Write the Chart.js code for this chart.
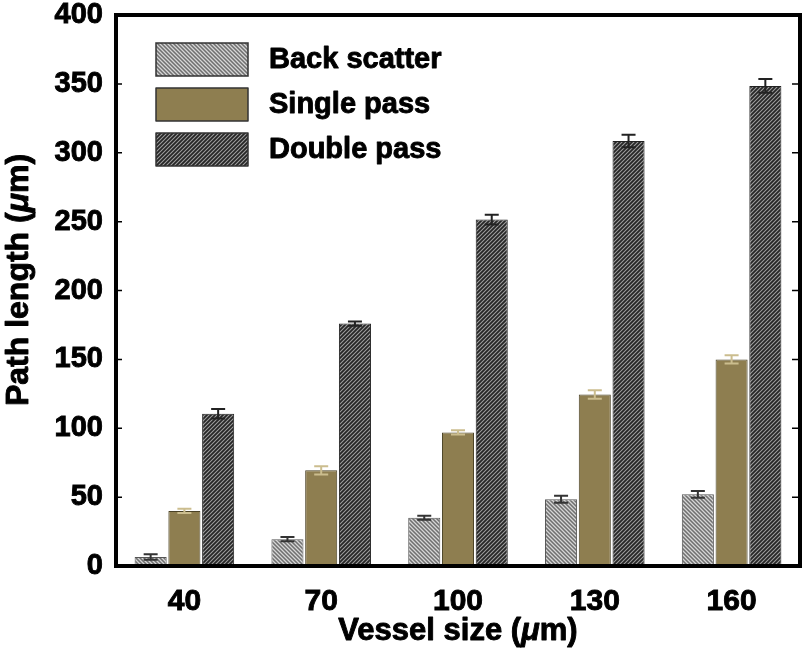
<!DOCTYPE html>
<html>
<head>
<meta charset="utf-8">
<script src="https://cdn.jsdelivr.net/npm/chart.js@4.4.0/dist/chart.umd.min.js"></script>
<style>
  html, body { margin: 0; padding: 0; background: #fff; }
  #grafico { display: block; }
</style>
</head>
<body>
<canvas id="grafico" width="808" height="652"></canvas>
<script>
// dados
const tamanhos = ['40', '70', '100', '130', '160'];
const nomesSeries = ['Back scatter', 'Single pass', 'Double pass'];
const backScatter = [6.5, 19.5, 35, 48.5, 52];
const singlePass = [40, 69.5, 97, 124.5, 150];
const doublePass = [110.5, 176, 251.5, 308.5, 348.5];
const erroBack = [2, 1.5, 1.5, 2.5, 2.5];
const erroSingle = [1.5, 3, 1.5, 3, 3];
const erroDouble = [3.5, 1.5, 3.5, 4.5, 5];
const ticksY = [0, 50, 100, 150, 200, 250, 300, 350, 400];

const fonte = '"Liberation Sans", Arial, sans-serif';

// padrões hachurados
function hachura(fundo, listra, escura, invertido) {
    const c = document.createElement('canvas');
    c.width = 4; c.height = 4;
    const g = c.getContext('2d');
    g.fillStyle = fundo;
    g.fillRect(0, 0, 4, 4);
    g.lineWidth = 1;
    g.strokeStyle = listra;
    g.beginPath();
    if (invertido) {
        g.moveTo(-1, 5); g.lineTo(5, -1);
        g.moveTo(3, 5); g.lineTo(5, 3);
        g.moveTo(-1, 1); g.lineTo(1, -1);
    } else {
        g.moveTo(-1, -1); g.lineTo(5, 5);
        g.moveTo(3, -1); g.lineTo(5, 1);
        g.moveTo(-1, 3); g.lineTo(1, 5);
    }
    g.stroke();
    g.strokeStyle = escura;
    g.beginPath();
    if (invertido) {
        g.moveTo(1, 5); g.lineTo(5, 1);
        g.moveTo(-1, 3); g.lineTo(3, -1);
    } else {
        g.moveTo(1, -1); g.lineTo(5, 3);
        g.moveTo(-1, 1); g.lineTo(3, 5);
    }
    g.stroke();
    return document.getElementById('grafico').getContext('2d').createPattern(c, 'repeat');
}

const padraoBack = hachura('#9c9c9c', '#d6d6d6', '#707070', false);
const padraoDouble = hachura('#464646', '#979797', '#262626', true);
const corSingle = '#8e7e50';

const erros = [erroBack, erroSingle, erroDouble];
const corErro = ['#333333', '#cbbd8e', '#222222'];

// texto com contorno leve para ficar mais pesado
function textoForte(ctx, t, x, y) {
    ctx.lineWidth = 0.9;
    ctx.strokeStyle = '#000';
    ctx.lineJoin = 'round';
    ctx.strokeText(t, x, y);
    ctx.fillText(t, x, y);
}

// moldura, ticks internos, barras de erro, legenda e títulos
const pluginExtras = {
    id: 'extras',
    afterDatasetsDraw(chart) {
        const ctx = chart.ctx;
        const y = chart.scales.y;
        chart.data.datasets.forEach((ds, i) => {
            const meta = chart.getDatasetMeta(i);
            meta.data.forEach((bar, j) => {
                const v = ds.data[j], e = erros[i][j];
                const yt = y.getPixelForValue(v + e);
                const yb = y.getPixelForValue(v - e);
                ctx.save();
                ctx.strokeStyle = corErro[i];
                ctx.lineWidth = 2;
                ctx.beginPath();
                ctx.moveTo(bar.x, yt); ctx.lineTo(bar.x, yb);
                ctx.moveTo(bar.x - 7, yt); ctx.lineTo(bar.x + 7, yt);
                ctx.moveTo(bar.x - 7, yb); ctx.lineTo(bar.x + 7, yb);
                ctx.stroke();
                ctx.restore();
            });
        });
    },
    afterDraw(chart) {
        const ctx = chart.ctx;
        const a = chart.chartArea;
        const y = chart.scales.y;
        ctx.save();
        // ticks internos
        ctx.strokeStyle = '#000';
        ctx.lineWidth = 1.5;
        ticksY.forEach(t => {
            const py = y.getPixelForValue(t);
            ctx.beginPath();
            ctx.moveTo(a.left, py); ctx.lineTo(a.left + 6, py);
            ctx.moveTo(a.right, py); ctx.lineTo(a.right - 8, py);
            ctx.stroke();
        });
        // moldura
        ctx.lineWidth = 4;
        ctx.strokeRect(a.left, a.top, a.right - a.left, a.bottom - a.top);

        // legenda
        const cores = chart.data.datasets.map(d => d.backgroundColor);
        ctx.font = 'bold 29px ' + fonte;
        ctx.textBaseline = 'middle';
        nomesSeries.forEach((n, i) => {
            const bx = a.left + 40, by = a.top + 28 + i * 45;
            ctx.fillStyle = cores[i];
            ctx.fillRect(bx, by, 92, 33);
            ctx.lineWidth = 1.5;
            ctx.strokeStyle = '#333';
            ctx.strokeRect(bx, by, 92, 33);
            ctx.fillStyle = '#000';
            textoForte(ctx, n, bx + 113, by + 17);
        });

        // títulos dos eixos com μ em itálico
        function tituloMisto(partes, x, yy, rot) {
            ctx.save();
            ctx.translate(x, yy);
            ctx.rotate(rot);
            let total = 0;
            partes.forEach(p => { ctx.font = p[1]; total += ctx.measureText(p[0]).width; });
            let cx = -total / 2;
            ctx.textAlign = 'left';
            ctx.textBaseline = 'middle';
            ctx.fillStyle = '#000';
            partes.forEach(p => { ctx.font = p[1]; textoForte(ctx, p[0], cx, 0); cx += ctx.measureText(p[0]).width; });
            ctx.restore();
        }
        const fb = 'bold 31px ' + fonte;
        const fi = 'italic bold 31px ' + fonte;
        tituloMisto([['Vessel size (', fb], ['\u03bc', fi], ['m)', fb]], (a.left + a.right) / 2, 631, 0);
        const gb = 'bold 32px ' + fonte;
        const gi = 'italic bold 32px ' + fonte;
        tituloMisto([['Path length (', gb], ['\u03bc', gi], ['m)', gb]], 19, 280, -Math.PI / 2);
        ctx.restore();
    }
};

const ctx = document.getElementById('grafico').getContext('2d');
new Chart(ctx, {
    type: 'bar',
    data: {
        labels: tamanhos,
        datasets: [
            { label: nomesSeries[0], data: backScatter, backgroundColor: padraoBack, borderColor: '#555', borderWidth: 1 },
            { label: nomesSeries[1], data: singlePass, backgroundColor: corSingle, borderColor: '#4a4226', borderWidth: 1 },
            { label: nomesSeries[2], data: doublePass, backgroundColor: padraoDouble, borderColor: '#222', borderWidth: 1 }
        ]
    },
    options: {
        responsive: false,
        animation: false,
        layout: { padding: { top: 15, right: 8, left: 0, bottom: 0 } },
        datasets: { bar: { categoryPercentage: 0.74, barPercentage: 0.95 } },
        plugins: { legend: { display: false }, tooltip: { enabled: false } },
        scales: {
            x: {
                grid: { display: false, drawTicks: false },
                border: { display: false },
                ticks: { color: '#000', padding: 18, textStrokeColor: '#000', textStrokeWidth: 0.9, font: { family: fonte, size: 30, weight: 'bold' } },
                afterFit(s) { s.height = 86; s.paddingLeft = 0; s.paddingRight = 0; }
            },
            y: {
                min: 0,
                max: 400,
                grid: { display: false, drawTicks: false },
                border: { display: false },
                ticks: { stepSize: 50, color: '#000', padding: 13, textStrokeColor: '#000', textStrokeWidth: 0.9, font: { family: fonte, size: 29, weight: 'bold' } },
                afterFit(s) { s.width = 116; s.paddingTop = 0; s.paddingBottom = 0; }
            }
        }
    },
    plugins: [pluginExtras]
});
</script>
</body>
</html>
